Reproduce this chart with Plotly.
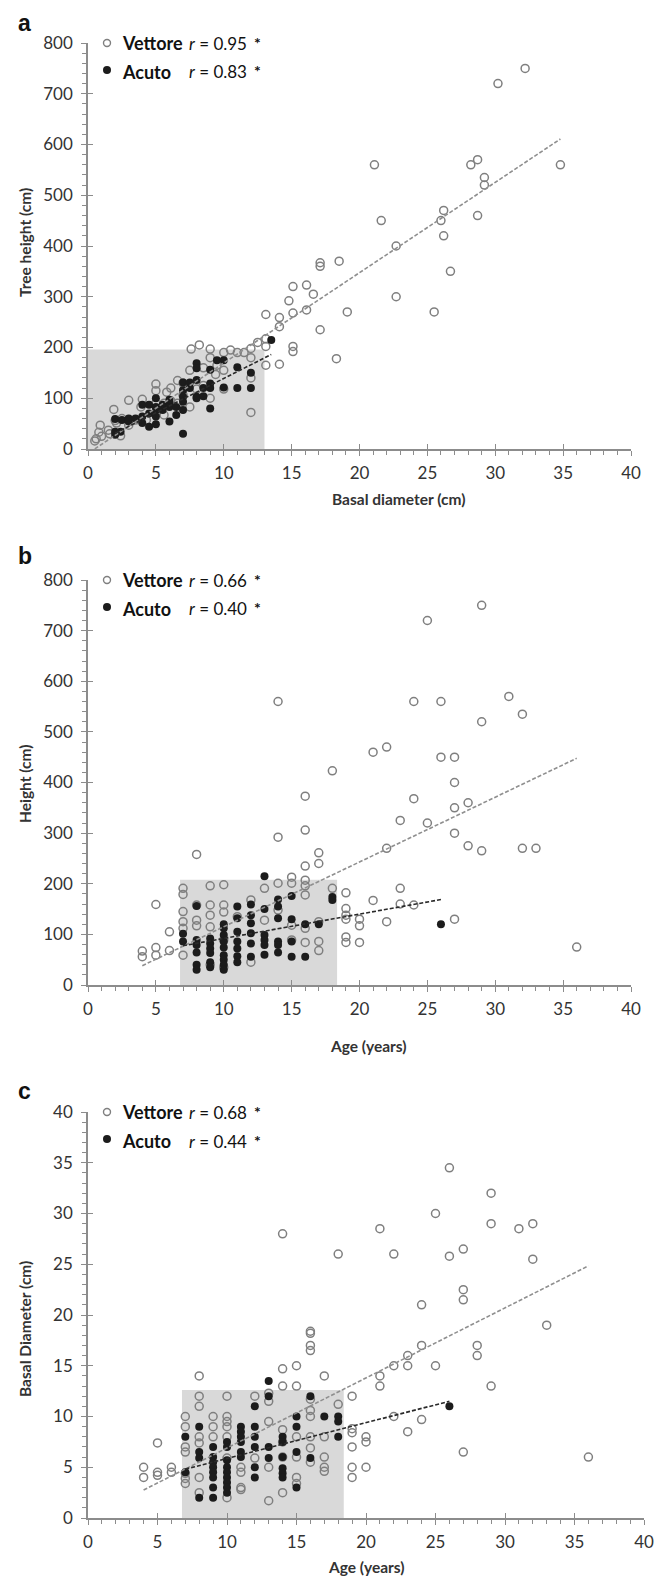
import plotly.graph_objects as go

# page body has an 8px margin, so the figure is drawn 8px smaller and positions are offset
OFF = 8
W, H = 666 - OFF, 1577 - OFF

# ---------------- Panel a: Tree height vs Basal diameter ----------------
a_vet_x = [0.5, 0.6, 0.8, 0.9, 1.0, 1.5, 1.6, 1.9, 2.0, 2.1, 2.4, 2.5, 3.0, 3.0, 3.5, 3.9, 4.0, 4.3,
           5.0, 5.0, 5.0, 5.0, 5.6, 5.6, 5.8, 6.1, 6.1, 6.6, 6.6, 7.0, 7.0, 7.5, 7.5, 7.6, 8.0, 8.2,
           8.5, 8.5, 9.0, 9.0, 9.0, 9.4, 9.5, 10.0, 10.0, 10.0, 10.5, 11.0, 11.5, 12.0, 12.0, 12.0,
           12.0, 12.5, 13.1, 13.1, 13.1, 13.1, 14.1, 14.1, 14.1, 14.8, 15.1, 15.1, 15.1, 15.1, 16.1,
           16.1, 16.6, 17.1, 17.1, 17.1, 18.5, 18.3, 19.1, 21.1, 21.6, 22.7, 22.7, 25.5, 26.0, 26.2,
           26.2, 26.7, 28.2, 28.7, 28.7, 29.2, 29.2, 30.2, 32.2, 34.8]
a_vet_y = [16, 20, 33, 47, 25, 37, 30, 78, 56, 51, 26, 60, 96, 47, 57, 83, 98, 57,
           128, 115, 90, 70, 90, 67, 112, 120, 95, 135, 90, 130, 106, 83, 155, 197, 118, 205,
           160, 125, 197, 180, 100, 147, 165, 190, 155, 118, 195, 190, 190, 198, 180, 140,
           72, 210, 265, 217, 202, 165, 259, 241, 167, 292, 320, 268, 202, 192, 323,
           274, 305, 367, 360, 235, 370, 178, 270, 560, 450, 400, 300, 270, 450, 470,
           420, 350, 560, 570, 460, 535, 520, 720, 750, 560]
a_acu_x = [2.0, 2.0, 2.0, 2.4, 2.5, 3.0, 3.0, 3.5, 4.0, 4.0, 4.0, 4.5, 4.5, 4.5, 5.0, 5.0, 5.0, 5.0,
           5.0, 5.5, 5.5, 6.0, 6.0, 6.0, 6.0, 6.5, 6.5, 7.0, 7.0, 7.0, 7.0, 7.0, 7.0, 7.5, 7.5, 8.0,
           8.0, 8.0, 8.0, 8.0, 8.5, 8.5, 9.0, 9.0, 9.0, 9.0, 9.5, 10.0, 10.0, 11.0, 11.0, 12.0, 12.0,
           13.5]
a_acu_y = [59, 34, 28, 34, 57, 60, 54, 60, 87, 64, 51, 87, 70, 44, 100, 83, 77, 64,
           49, 87, 77, 97, 90, 83, 54, 83, 67, 131, 116, 103, 93, 77, 30, 131, 120, 169,
           159, 136, 103, 100, 120, 104, 156, 129, 120, 80, 175, 175, 121, 161, 120, 150, 120,
           215]
a_vet_fit = (17.8, -8.6)     # slope, intercept
a_acu_fit = (13.5, 4.0)
a_rect = (0, 13, 0, 196)     # x0, x1, y0, y1
a_r = ["0.95", "0.83"]

# ---------------- Panel b: Height vs Age ----------------
b_vet_x = [4, 4, 5, 5, 5, 6, 6, 7, 7, 7, 7, 7, 7, 8, 8, 8, 8, 9, 9, 9, 9, 9, 10, 10, 10, 10, 10,
           11, 12, 12, 13, 13, 14, 14, 14, 14, 15, 15, 15, 15, 16, 16, 16, 16, 16, 16, 16, 16,
           17, 17, 17, 17, 17, 18, 18, 19, 19, 19, 19, 19, 19, 20, 20, 20, 21, 21, 22, 22, 22,
           23, 23, 23, 24, 24, 24, 25, 25, 26, 26, 27, 27, 27, 27, 27, 28, 28, 29, 29, 29, 31,
           32, 32, 33, 36]
b_vet_y = [67, 56, 159, 74, 59, 105, 68, 191, 179, 145, 125, 112, 59, 258, 158, 128, 117, 196, 158, 138, 115, 40, 198, 158, 144, 89, 35,
           135, 168, 45, 191, 128, 560, 292, 201, 148, 213, 201, 118, 89, 373, 306, 235, 207, 196, 178, 112, 84,
           261, 240, 125, 86, 68, 423, 191, 182, 151, 138, 130, 95, 84, 130, 117, 84, 460, 167, 470, 270, 125,
           325, 191, 160, 560, 368, 158, 720, 320, 560, 450, 450, 400, 350, 300, 130, 360, 275, 750, 520, 265, 570,
           535, 270, 270, 75]
b_acu_x = [7, 7, 8, 8, 8, 8, 8, 8, 9, 9, 9, 9, 9, 9, 10, 10, 10, 10, 10, 10, 10, 10, 10,
           11, 11, 11, 11, 11, 11, 11, 12, 12, 12, 12, 12, 12, 13, 13, 13, 13, 13, 13,
           14, 14, 14, 14, 14, 14, 15, 15, 15, 15, 16, 16, 17, 18, 18, 26]
b_acu_y = [101, 86, 156, 89, 79, 64, 40, 30, 92, 82, 72, 63, 45, 35, 120, 112, 99, 86, 74, 59, 50, 40, 30,
           155, 132, 105, 86, 72, 57, 45, 159, 138, 122, 102, 82, 56, 215, 150, 99, 89, 79, 60,
           169, 155, 132, 86, 79, 64, 176, 130, 86, 56, 120, 56, 120, 174, 168, 120]
b_vet_fit = (12.8, -13.0)
b_acu_fit = (4.8, 44.0)
b_rect = (6.78, 18.35, 0, 208)
b_r = ["0.66", "0.40"]

# ---------------- Panel c: Basal diameter vs Age ----------------
c_vet_x = [4, 4, 5, 5, 5, 6, 6, 7, 7, 7, 7, 7, 7, 7, 8, 8, 8, 8, 8, 8, 8, 9, 9, 9,
           10, 10, 10, 10, 10, 10, 10, 11, 11, 11, 11, 12, 12, 13, 13, 13, 13, 13,
           14, 14, 14, 14, 14, 14, 14, 15, 15, 15, 15, 15, 15, 16, 16, 16, 16, 16, 16, 16, 16, 16, 16,
           17, 17, 17, 17, 17, 18, 18, 19, 19, 19, 19, 19, 19, 20, 20, 20, 21, 21, 21, 22, 22, 22,
           23, 23, 23, 24, 24, 24, 25, 25, 26, 26, 27, 27, 27, 27, 28, 28, 29, 29, 29, 31, 32, 32, 33, 36]
c_vet_y = [5.0, 4.0, 7.4, 4.5, 4.2, 5.0, 4.5, 10, 9.0, 7.0, 6.5, 4.4, 3.9, 3.4, 14, 12, 11, 8.0, 7.4, 4.0, 2.5, 10, 9.0, 8.0,
           12, 10, 9.5, 9.0, 8.0, 5.9, 2.0, 5.0, 4.5, 3.0, 2.8, 12, 5.9, 12.3, 11.5, 9.5, 5.0, 1.7,
           28, 14.7, 13, 8.7, 7.5, 6.0, 2.5, 15, 13, 8.0, 6.0, 4.0, 3.4, 18.4, 18.2, 17, 16.5, 11.7, 10.6, 10, 8.0, 6.9, 5.5,
           14, 8.0, 6.0, 5.0, 4.6, 26, 11.2, 12, 8.8, 8.4, 7.0, 5.0, 4.0, 8.0, 7.5, 5.0, 28.5, 14, 13, 26, 15, 10,
           16, 15, 8.5, 21, 17, 9.7, 30, 15, 34.5, 25.8, 26.5, 22.5, 21.5, 6.5, 17, 16, 32, 29, 13, 28.5, 29, 25.5, 19, 6.0]
c_acu_x = [7, 7, 8, 8, 8, 8, 9, 9, 9, 9, 9, 9, 9, 9, 10, 10, 10, 10, 10, 10, 10, 10, 10,
           11, 11, 11, 11, 11, 11, 12, 12, 12, 12, 12, 12, 13, 13, 13, 13,
           14, 14, 14, 14, 14, 14, 15, 15, 15, 15, 16, 16, 17, 18, 18, 18, 26]
c_acu_y = [8.0, 4.5, 9.0, 6.5, 5.9, 2.0, 7.0, 6.0, 5.5, 5.0, 4.5, 4.0, 3.0, 2.0, 7.5, 7.0, 5.7, 5.0, 4.5, 4.0, 3.5, 3.0, 2.5,
           9.0, 8.5, 8.0, 7.5, 6.5, 6.0, 11, 9.0, 8.0, 7.0, 5.0, 4.0, 13.5, 12, 7.0, 5.9,
           8.0, 7.5, 6.0, 4.9, 4.4, 4.0, 10, 9.0, 6.5, 3.0, 12, 5.9, 10, 10, 9.5, 8.0, 11]
c_vet_fit = (0.69, 0.0)
c_acu_fit = (0.352, 2.35)
c_rect = (6.76, 18.4, 0, 12.6)
c_r = ["0.68", "0.44"]

series_names = ["Vettore", "Acuto"]
panel_letters = ["a", "b", "c"]
x_titles = ["Basal diameter (cm)", "Age (years)", "Age (years)"]
y_titles = ["Tree height (cm)", "Height (cm)", "Basal Diameter (cm)"]
y_ranges = [(0, 800, 100, 20), (0, 800, 100, 20), (0, 40, 5, 1)]

# ---------------- styling / layout ----------------
FONT = "Lato"
TXT = "#333333"
AX = "#8c8c8c"
GRAY_M = "#7f7f7f"
BLACK_M = "#1c1c1c"
RECT = "#d9d9d9"

def px(x):
    return (x - OFF) / W

def py(y):
    return 1 - (y - OFF) / H

# pixel geometry (window pixels) of each panel: (left, right, top, bottom)
geo = [(88, 631, 43, 449), (88, 631, 580, 985), (88, 644, 1112, 1518)]
xt_x = [398, 368, 366]
xt_y = [499, 1046, 1567]
yt_y = [243, 784, 1329]
letter_top = [8, 541, 1076]

panels = [
    (a_vet_x, a_vet_y, a_acu_x, a_acu_y, a_vet_fit, a_acu_fit, a_rect, a_r),
    (b_vet_x, b_vet_y, b_acu_x, b_acu_y, b_vet_fit, b_acu_fit, b_rect, b_r),
    (c_vet_x, c_vet_y, c_acu_x, c_acu_y, c_vet_fit, c_acu_fit, c_rect, c_r),
]

fig = go.Figure()
shapes = []
annotations = []
layout = {}

for i, (vx, vy, ax_, ay, vfit, afit, rect, rvals) in enumerate(panels):
    n = i + 1
    xs = "" if n == 1 else str(n)
    xa, ya = "x" + xs, "y" + xs
    L, R, T, B = geo[i]
    ymin, ymax, ydt, ymdt = y_ranges[i]

    layout["xaxis" + xs] = dict(
        domain=[px(L), px(R)], anchor=ya, range=[0, 40], tickmode="linear", tick0=0, dtick=5,
        ticks="outside", ticklen=5, tickwidth=1.2, tickcolor=AX, showline=True, linecolor=AX,
        linewidth=1.5, showgrid=False, zeroline=False, ticklabelstandoff=3, automargin=False,
        tickfont=dict(family=FONT, size=17, color=TXT),
        minor=dict(dtick=1, ticks="outside", ticklen=4, tickcolor=AX, tickwidth=1, showgrid=False),
    )
    layout["yaxis" + xs] = dict(
        domain=[py(B), py(T)], anchor=xa, range=[ymin, ymax], tickmode="linear", tick0=0, dtick=ydt,
        ticks="outside", ticklen=5, tickwidth=1.2, tickcolor=AX, showline=True, linecolor=AX,
        linewidth=1.5, showgrid=False, zeroline=False, ticklabelstandoff=5, automargin=False,
        tickfont=dict(family=FONT, size=17, color=TXT),
        minor=dict(dtick=ymdt, ticks="outside", ticklen=4, tickcolor=AX, tickwidth=1, showgrid=False),
    )
    # overlay axes: major ticks also inside (crossing ticks)
    ox, oy = str(n + 3), str(n + 3)
    layout["xaxis" + ox] = dict(overlaying=xa, anchor=ya, range=[0, 40], tickmode="linear", tick0=0,
                                dtick=5, ticks="inside", ticklen=5, tickwidth=1.2, tickcolor=AX,
                                showticklabels=False, showline=False, showgrid=False, zeroline=False,
                                automargin=False)
    layout["yaxis" + oy] = dict(overlaying=ya, anchor=xa, range=[ymin, ymax], tickmode="linear",
                                tick0=0, dtick=ydt, ticks="inside", ticklen=5, tickwidth=1.2,
                                tickcolor=AX, showticklabels=False, showline=False, showgrid=False,
                                zeroline=False, automargin=False)
    fig.add_trace(go.Scatter(x=[], y=[], xaxis="x" + ox, yaxis=ya, showlegend=False))
    fig.add_trace(go.Scatter(x=[], y=[], xaxis=xa, yaxis="y" + oy, showlegend=False))

    # shaded rectangle
    shapes.append(dict(type="rect", xref=xa, yref=ya, x0=rect[0], x1=rect[1], y0=rect[2], y1=rect[3],
                       fillcolor=RECT, line=dict(width=0), layer="below"))

    # points
    fig.add_trace(go.Scatter(x=vx, y=vy, mode="markers", xaxis=xa, yaxis=ya, showlegend=False,
                             marker=dict(symbol="circle-open", size=8, color=GRAY_M,
                                         line=dict(width=1.5, color=GRAY_M))))
    fig.add_trace(go.Scatter(x=ax_, y=ay, mode="markers", xaxis=xa, yaxis=ya, showlegend=False,
                             marker=dict(symbol="circle", size=8, color=BLACK_M,
                                         line=dict(width=0))))
    # trend lines
    for (sx, fit, col) in [(vx, vfit, "#8f8f8f"), (ax_, afit, "#2a2a2a")]:
        x0, x1 = min(sx), max(sx)
        fig.add_trace(go.Scatter(x=[x0, x1], y=[fit[0] * x0 + fit[1], fit[0] * x1 + fit[1]],
                                 mode="lines", xaxis=xa, yaxis=ya, showlegend=False,
                                 line=dict(color=col, width=1.6, dash="4px,2px")))

    # panel letter
    annotations.append(dict(xref="paper", yref="paper", x=px(16), y=py(letter_top[i]),
                            xanchor="left", yanchor="top", showarrow=False,
                            text="<b>%s</b>" % panel_letters[i],
                            font=dict(family="Liberation Sans", size=23, color="#111111")))
    # axis titles
    annotations.append(dict(xref="paper", yref="paper", x=px(xt_x[i]),
                            y=py(xt_y[i]), xanchor="center", yanchor="middle", showarrow=False,
                            text="<b>%s</b>" % x_titles[i],
                            font=dict(family=FONT, size=15.5, color=TXT)))
    annotations.append(dict(xref="paper", yref="paper", x=px(25), y=py(yt_y[i]),
                            xanchor="center", yanchor="middle", showarrow=False, textangle=-90,
                            text="<b>%s</b>" % y_titles[i],
                            font=dict(family=FONT, size=15.5, color=TXT)))
    # legend
    for k, name in enumerate(series_names):
        ry = T + k * 29
        if k == 0:
            shapes.append(dict(type="circle", xref="paper", yref="paper", xsizemode="pixel",
                               ysizemode="pixel", xanchor=px(107), yanchor=py(ry),
                               x0=-3.5, x1=3.5, y0=-3.5, y1=3.5,
                               line=dict(color=GRAY_M, width=1.4), fillcolor="rgba(0,0,0,0)"))
        else:
            shapes.append(dict(type="circle", xref="paper", yref="paper", xsizemode="pixel",
                               ysizemode="pixel", xanchor=px(107), yanchor=py(ry - 2),
                               x0=-4, x1=4, y0=-4, y1=4,
                               line=dict(color=BLACK_M, width=0), fillcolor=BLACK_M))
        annotations.append(dict(xref="paper", yref="paper", x=px(120), y=py(ry), xanchor="left",
                                yanchor="middle", showarrow=False, text="<b>%s</b>" % name,
                                font=dict(family=FONT, size=18, color="#111111")))
        annotations.append(dict(xref="paper", yref="paper", x=px(187), y=py(ry), xanchor="left",
                                yanchor="middle", showarrow=False,
                                text="<i>r</i> = %s" % rvals[k],
                                font=dict(family=FONT, size=17, color="#111111")))
        annotations.append(dict(xref="paper", yref="paper", x=px(257), y=py(ry - 1), xanchor="center",
                                yanchor="middle", showarrow=False, text="<b>*</b>",
                                font=dict(family=FONT, size=16, color="#111111")))

fig.update_layout(
    width=W, height=H, margin=dict(l=0, r=0, t=0, b=0, pad=0, autoexpand=False),
    paper_bgcolor="white", plot_bgcolor="rgba(0,0,0,0)",
    shapes=shapes, annotations=annotations, showlegend=False, **layout,
)

fig.write_html("out.html")
